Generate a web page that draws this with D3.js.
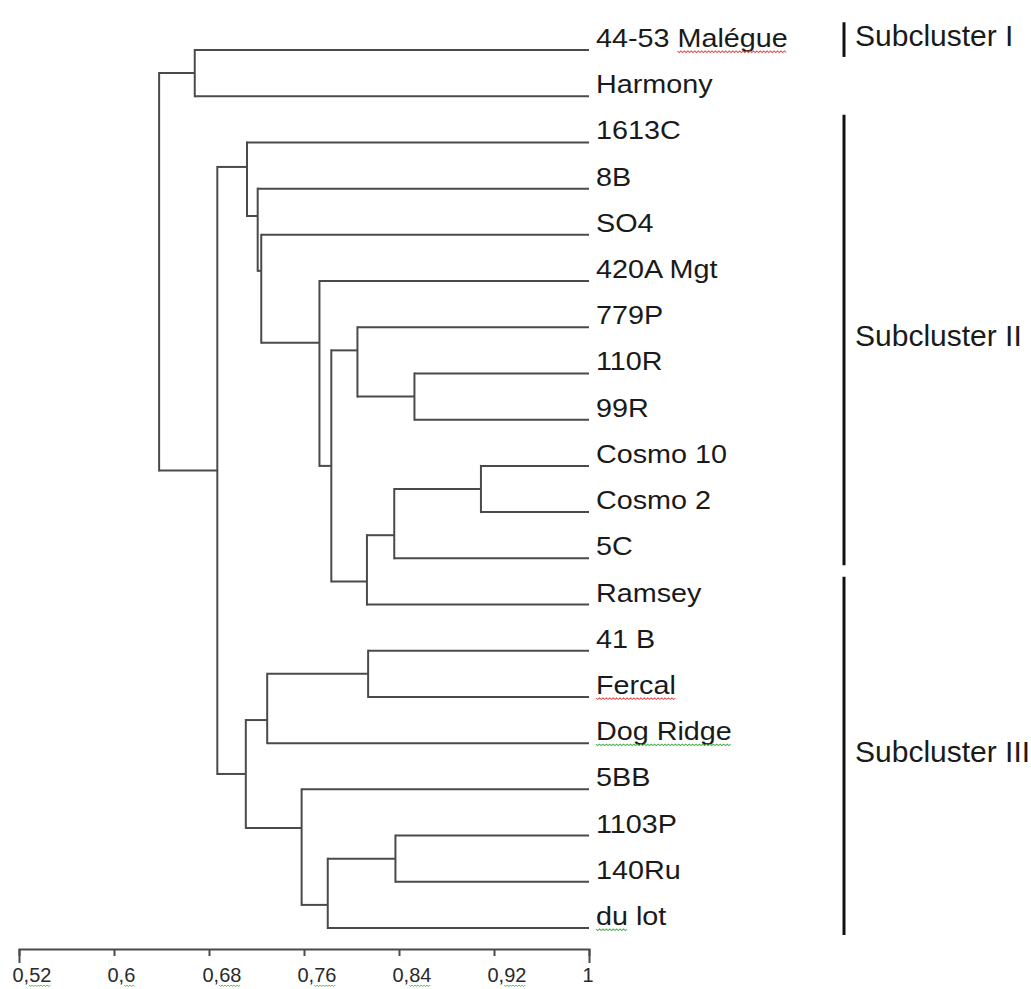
<!DOCTYPE html>
<html>
<head>
<meta charset="utf-8">
<script src="https://cdn.jsdelivr.net/npm/d3@7/dist/d3.min.js"></script>
<style>
  html, body { margin: 0; padding: 0; background: #fff; }
  svg { display: block; }
  text { font-family: "Liberation Sans", Arial, sans-serif; }
</style>
</head>
<body>
<svg id="chart" width="1031" height="989"></svg>
<script>
// ---- data ----
const leaves = ["44-53 Malégue", "Harmony", "1613C", "8B", "SO4", "420A Mgt", "779P",
  "110R", "99R", "Cosmo 10", "Cosmo 2", "5C", "Ramsey", "41 B", "Fercal",
  "Dog Ridge", "5BB", "1103P", "140Ru", "du lot"];

// merges: [id, left child, right child, similarity]
const merges = [
  ["L", "Cosmo 10", "Cosmo 2", 0.909],
  ["J", "110R", "99R", 0.853],
  ["R", "1103P", "140Ru", 0.837],
  ["K", "L", "5C", 0.836],
  ["P", "41 B", "Fercal", 0.814],
  ["I", "K", "Ramsey", 0.813],
  ["H", "779P", "J", 0.805],
  ["G", "H", "I", 0.783],
  ["Q", "R", "du lot", 0.780],
  ["F", "420A Mgt", "G", 0.773],
  ["O", "5BB", "Q", 0.758],
  ["N", "P", "Dog Ridge", 0.729],
  ["E", "SO4", "F", 0.724],
  ["D", "8B", "E", 0.721],
  ["C", "1613C", "D", 0.712],
  ["M", "N", "O", 0.711],
  ["B", "C", "M", 0.687],
  ["A", "44-53 Malégue", "Harmony", 0.668],
  ["root", "A", "B", 0.638]
];

const tickValues = [0.52, 0.6, 0.68, 0.76, 0.84, 0.92, 1];
const tickLabels = ["0,52", "0,6", "0,68", "0,76", "0,84", "0,92", "1"];

const subclusters = [
  { name: "Subcluster I",   first: "44-53 Malégue", last: "44-53 Malégue" },
  { name: "Subcluster II",  first: "1613C",         last: "5C" },
  { name: "Subcluster III", first: "Ramsey",        last: "du lot" }
];

// spell-check underlines seen in the source document: [label, first char, last char, kind]
const spellMarks = [
  ["44-53 Malégue", 6, 12, "spell"],
  ["Fercal", 0, 5, "spell"],
  ["Dog Ridge", 0, 8, "grammar"],
  ["du lot", 0, 1, "grammar"]
];

// ---- scales ----
const svg = d3.select("#chart");
const x = d3.scaleLinear().domain([0.52, 1]).range([19, 589]);
const y = d3.scalePoint().domain(leaves).range([50, 928]);
const step = y.step();

const lineColor = "#4a4a4a";
const markColor = { spell: "#e04848", grammar: "#4caf50" };

function wavy(x1, x2, yy) {
  const p = d3.path();
  p.moveTo(x1, yy);
  let k = 0;
  for (let xx = x1 + 1.5; xx <= x2; xx += 1.5) {
    p.lineTo(xx, yy + (k % 2 === 0 ? 1.5 : 0));
    k++;
  }
  return p.toString();
}

// ---- layout of internal nodes ----
const nodes = {};
leaves.forEach(n => { nodes[n] = { id: n, sim: 1, y: y(n), leaf: true }; });
merges.forEach(([id, a, b, s]) => {
  const A = nodes[a], B = nodes[b];
  const wa = A.leaf ? 2 : 1, wb = B.leaf ? 2 : 1;
  nodes[id] = { id, sim: s, y: (wa * A.y + wb * B.y) / (wa + wb), leaf: false, kids: [A, B] };
});

const gTree = svg.append("g");
merges.forEach(([id]) => {
  const n = nodes[id];
  const [A, B] = n.kids;
  gTree.append("line")
    .attr("x1", x(n.sim)).attr("x2", x(n.sim))
    .attr("y1", A.y).attr("y2", B.y)
    .attr("stroke", lineColor).attr("stroke-width", 2).attr("stroke-linecap", "square");
  [A, B].forEach(c => {
    gTree.append("line")
      .attr("x1", x(n.sim)).attr("x2", x(c.sim))
      .attr("y1", c.y).attr("y2", c.y)
      .attr("stroke", lineColor).attr("stroke-width", 2);
  });
});

// ---- leaf labels ----
const labelG = svg.append("g").selectAll("g").data(leaves).join("g")
  .attr("transform", d => `translate(${x(1) + 7},${y(d) - 3}) scale(1.15,1)`);
labelG.append("text")
  .attr("font-size", 25)
  .attr("fill", "#1a1a1a")
  .text(d => d);

labelG.each(function(d) {
  const g = d3.select(this);
  const t = g.select("text").node();
  spellMarks.filter(m => m[0] === d).forEach(m => {
    const a = t.getStartPositionOfChar(m[1]).x;
    const b = t.getEndPositionOfChar(m[2]).x;
    g.append("path").attr("d", wavy(a, b, 4))
      .attr("fill", "none").attr("stroke", markColor[m[3]]).attr("stroke-width", 0.9);
  });
});

// ---- subcluster brackets ----
const gSub = svg.append("g");
subclusters.forEach(sc => {
  const top = y(sc.first) - 0.6 * step;
  const bot = y(sc.last) + 0.15 * step;
  gSub.append("line")
    .attr("x1", 844).attr("x2", 844)
    .attr("y1", top).attr("y2", bot)
    .attr("stroke", "#111").attr("stroke-width", 3);
  gSub.append("text")
    .attr("x", 855).attr("y", (top + bot) / 2 + 6)
    .attr("font-size", 30)
    .attr("fill", "#1a1a1a")
    .text(sc.name);
});

// ---- axis ----
const axis = d3.axisBottom(x)
  .tickValues(tickValues)
  .tickFormat((d, i) => tickLabels[i])
  .tickSizeInner(7)
  .tickSizeOuter(14);

const gAxis = svg.append("g")
  .attr("transform", "translate(0,949)")
  .call(axis);
gAxis.select(".domain").attr("stroke", lineColor).attr("stroke-width", 2);
gAxis.selectAll(".tick line").attr("stroke", lineColor).attr("stroke-width", 2);
gAxis.selectAll(".tick text")
  .attr("font-family", "\"Liberation Sans\", Arial, sans-serif")
  .attr("font-size", 20)
  .attr("fill", "#2a2a2a")
  .attr("text-anchor", "start")
  .attr("x", -7)
  .attr("y", 33)
  .attr("dy", 0);

gAxis.selectAll(".tick").each(function(d, i) {
  const lbl = tickLabels[i];
  const comma = lbl.indexOf(",");
  if (comma < 0) return;
  const t = d3.select(this).select("text").node();
  const a = t.getStartPositionOfChar(comma + 1).x;
  const b = t.getEndPositionOfChar(lbl.length - 1).x;
  d3.select(this).append("path").attr("d", wavy(a, b, 36))
    .attr("fill", "none").attr("stroke", markColor.grammar).attr("stroke-width", 0.9);
});
</script>
</body>
</html>
